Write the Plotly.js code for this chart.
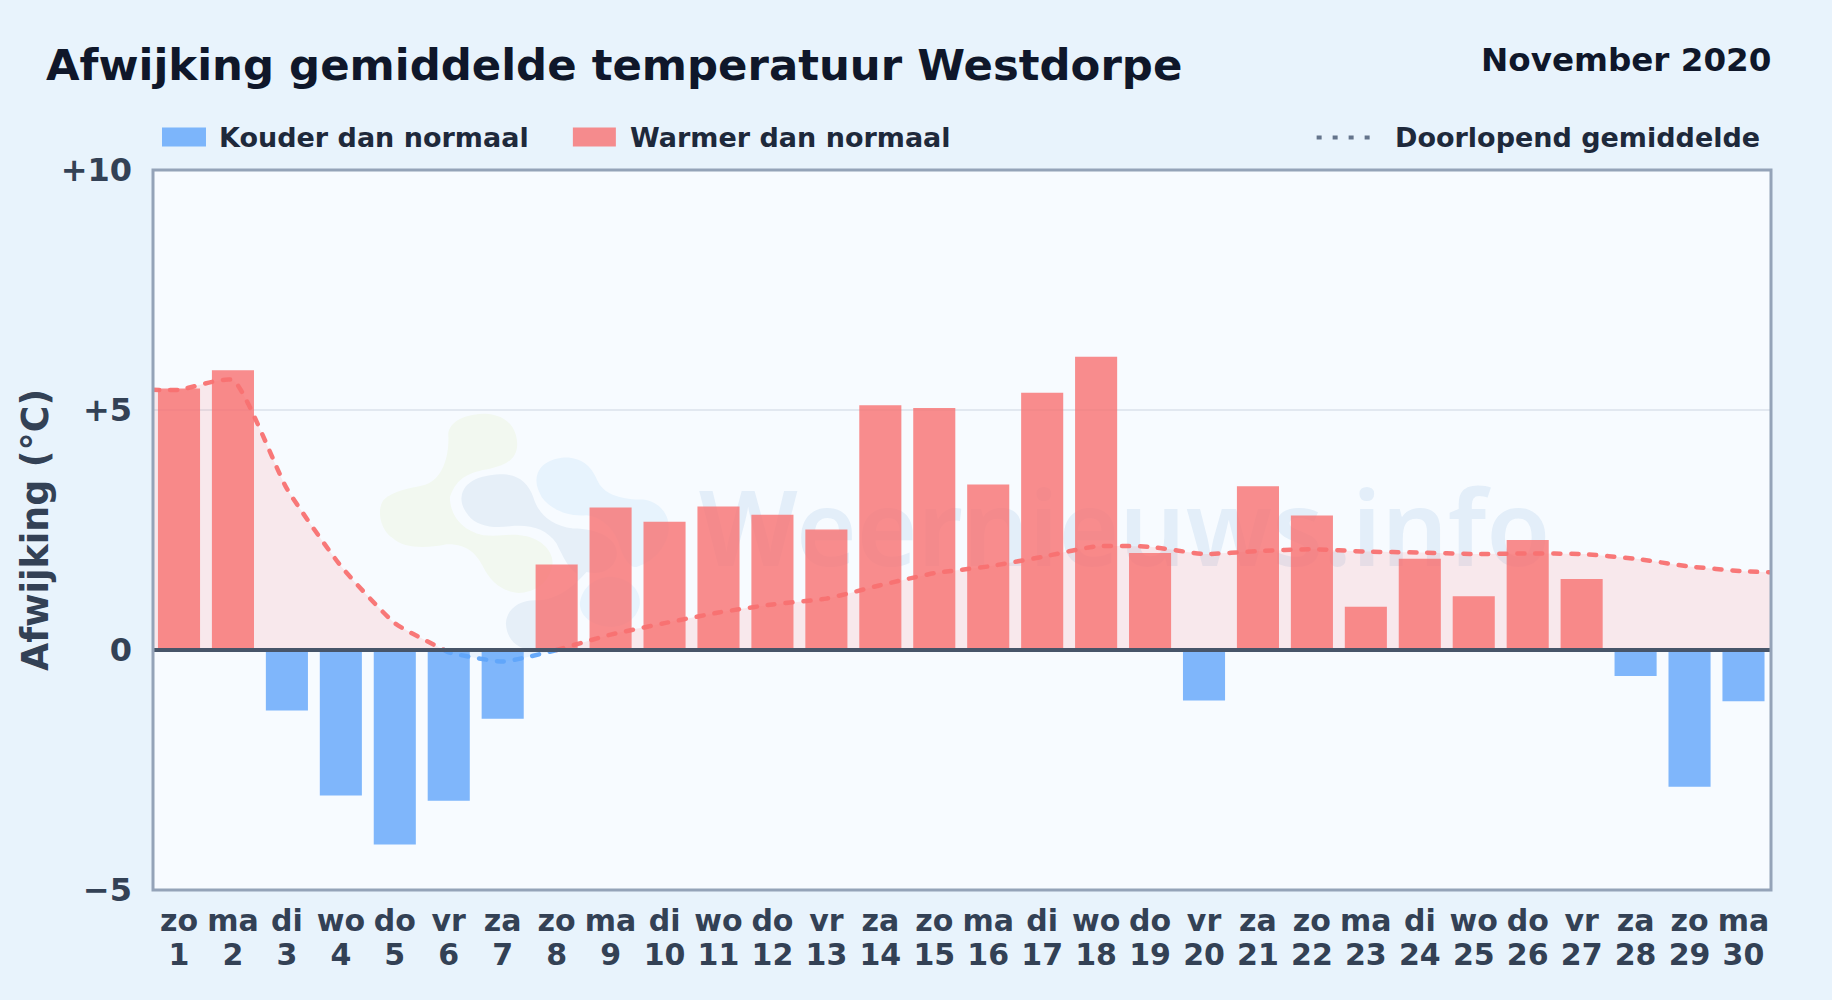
<!DOCTYPE html>
<html>
<head>
<meta charset="utf-8">
<script src="https://cdn.plot.ly/plotly-3.0.1.min.js"></script>
<style>
html,body{margin:0;padding:0;background:#e8f3fc;overflow:hidden}
#chart{width:1832px;height:1000px}
.scatterlayer .js-line{stroke-linecap:round}
</style>
</head>
<body>
<div id="chart"></div>
<script>
const weekdays = ["zo","ma","di","wo","do","vr","za","zo","ma","di","wo","do","vr","za","zo","ma","di","wo","do","vr","za","zo","ma","di","wo","do","vr","za","zo","ma"];
const days = [1,2,3,4,5,6,7,8,9,10,11,12,13,14,15,16,17,18,19,20,21,22,23,24,25,26,27,28,29,30];
const deviations = [5.45,5.83,-1.26,-3.03,-4.05,-3.14,-1.43,1.78,2.97,2.67,2.99,2.82,2.51,5.1,5.04,3.45,5.36,6.11,2.02,-1.05,3.41,2.8,0.9,1.9,1.12,2.29,1.48,-0.54,-2.85,-1.07];
const avgDays = [0.5,1,2,3,4,5,6,7,8,9,10,11,12,13,14,15,16,17,18,19,20,21,22,23,24,25,26,27,28,29,30,30.5];
const avgValues = [5.42,5.42,5.62,3.36,1.75,0.56,-0.05,-0.24,0.0,0.32,0.56,0.78,0.95,1.07,1.35,1.6,1.74,1.94,2.16,2.15,2.0,2.06,2.1,2.05,2.03,2.0,2.01,2.0,1.9,1.74,1.64,1.62];
const yTickVals = [-5,0,5,10];
const yTickText = ["\u22125","0","+5","+10"];
const RED = "#f87171", BLUE = "#60a5fa";
const W = 1832, H = 1000;
const L = 153, R = 1771.5, T = 169.5, B = 890;
const xRange = [0.518,30.51], yRange = [-5,10];

function segments(xs, ys){
  const out=[]; let cur={x:[xs[0]],y:[ys[0]],pos:ys[0]>=0};
  for(let i=1;i<xs.length;i++){
    const pos=ys[i]>=0;
    if(pos!==cur.pos){
      const t=ys[i-1]/(ys[i-1]-ys[i]), xc=xs[i-1]+t*(xs[i]-xs[i-1]);
      cur.x.push(xc);cur.y.push(0);out.push(cur);
      cur={x:[xc],y:[0],pos:pos};
    }
    cur.x.push(xs[i]);cur.y.push(ys[i]);
  }
  out.push(cur);return out;
}
const segs=segments(avgDays,avgValues);
const traces=[];
segs.forEach(s=>traces.push({type:"scatter",mode:"lines",x:s.x,y:s.y,fill:"tozeroy",
  fillcolor:s.pos?"rgba(252,110,110,0.13)":"rgba(96,165,250,0.10)",
  line:{width:0,shape:"spline",smoothing:0.5},hoverinfo:"skip",showlegend:false,xaxis:"x",yaxis:"y"}));
const colderX=days.filter((d,i)=>deviations[i]<0), colderY=deviations.filter(v=>v<0);
const warmerX=days.filter((d,i)=>deviations[i]>=0), warmerY=deviations.filter(v=>v>=0);
traces.push({type:"bar",name:"Kouder dan normaal",x:colderX,y:colderY,width:0.78,marker:{color:"rgba(96,165,250,0.8)",line:{width:0}},xaxis:"x2",yaxis:"y2",showlegend:false});
traces.push({type:"bar",name:"Warmer dan normaal",x:warmerX,y:warmerY,width:0.78,marker:{color:"rgba(248,113,113,0.8)",line:{width:0}},xaxis:"x2",yaxis:"y2",showlegend:false});
segs.forEach(s=>traces.push({type:"scatter",mode:"lines",name:"Doorlopend gemiddelde",x:s.x,y:s.y,
  line:{color:s.pos?RED:BLUE,width:4.5,dash:"7px,11px",shape:"spline",smoothing:0.5},opacity:0.95,showlegend:false,xaxis:"x2",yaxis:"y2"}));

const px=x=>(x-L)/(R-L), py=y=>(B-y)/(B-T);
function logoPath(d){return d.replace(/(-?\d+(?:\.\d+)?),(-?\d+(?:\.\d+)?)/g,(m,a,b)=>px(360+a/3)+","+py(400+b/3));}
const logo=[
 ["#f2f8f0","M265,100 C270,60 320,40 380,40 C440,45 470,80 472,130 C472,175 440,195 390,205 C330,215 290,230 270,290 C270,340 300,390 370,405 C420,410 450,400 480,405 C540,410 580,450 578,490 C570,550 520,580 470,578 C420,570 390,540 370,500 C350,460 320,430 260,432 C200,445 130,445 100,415 C60,390 50,330 70,300 C100,270 150,265 190,255 C240,245 270,180 265,100 Z"],
 ["#e6eff8","M305,290 C310,240 370,222 430,222 C480,225 505,250 520,290 C535,340 570,375 640,385 C720,385 780,420 770,470 C760,510 720,525 680,515 C640,560 590,600 530,600 C480,598 440,625 438,670 C440,715 470,745 510,748 L650,748 L650,520 C625,505 610,470 590,430 C560,385 510,372 450,378 C400,385 350,378 325,345 C310,325 303,310 305,290 Z"],
 ["#e7f3fd","M530,235 C535,190 580,170 630,172 C680,178 700,210 715,245 C735,285 790,298 850,298 C900,305 935,345 925,400 C915,450 870,490 830,500 C810,505 790,470 780,440 C770,395 730,350 680,345 C620,350 570,325 545,290 C535,270 528,255 530,235 Z"],
 ["#e7f3fd","M660,610 C665,560 710,528 760,530 C810,535 842,570 840,610 C835,650 800,682 750,680 C700,678 660,650 660,610 Z"]
];
const shapes=logo.map(l=>({type:"path",xref:"paper",yref:"paper",layer:"below",path:logoPath(l[1]),fillcolor:l[0],line:{width:0}}));
shapes.push({type:"rect",xref:"paper",yref:"paper",layer:"below",x0:px(690),x1:px(1560),y0:py(582),y1:py(482),line:{width:0},fillcolor:"rgba(0,0,0,0)",
  label:{text:"Weernieuws.info",textposition:"middle center",font:{family:"Noto Sans",size:104,weight:600,color:"rgba(30,110,190,0.09)"}}});
shapes.push({type:"line",xref:"paper",yref:"y",x0:0,x1:1,y0:0,y1:0,layer:"above",line:{color:"#475569",width:4}});
shapes.push({type:"rect",xref:"paper",yref:"paper",x0:0,x1:1,y0:0,y1:1,layer:"above",line:{color:"#94a3b8",width:3},fillcolor:"rgba(0,0,0,0)"});
shapes.push({type:"rect",xref:"paper",yref:"paper",x0:px(162),x1:px(206),y0:py(146),y1:py(127),line:{width:0},fillcolor:"rgba(96,165,250,0.8)"});
shapes.push({type:"rect",xref:"paper",yref:"paper",x0:px(573),x1:px(616),y0:py(146),y1:py(127),line:{width:0},fillcolor:"rgba(248,113,113,0.8)"});
shapes.push({type:"line",xref:"paper",yref:"paper",x0:px(1317),x1:px(1373),y0:py(137),y1:py(137),line:{color:"#64748b",width:4,dash:"5px,11px"}});

const legendFont={family:"DejaVu Sans",size:27,color:"#1e293b",weight:700};
const note=(text,x,y,anchor,font)=>({text,x:px(x),y:py(y),xref:"paper",yref:"paper",xanchor:anchor,yanchor:"middle",showarrow:false,font,borderpad:0,borderwidth:0});
const annotations=[
 note("Kouder dan normaal",219,136.5,"left",legendFont),
 note("Warmer dan normaal",630.5,136.5,"left",legendFont),
 note("Doorlopend gemiddelde",1395,136.5,"left",legendFont),
 note("November 2020",1772,59,"right",{family:"DejaVu Sans",size:32.6,color:"#0f172a",weight:700})
];

const xTickFont={family:"DejaVu Sans",size:30,color:"#334155",weight:700};
const yTickFont={family:"DejaVu Sans",size:32,color:"#334155",weight:700};
const layout={
 width:W,height:H,autosize:false,
 paper_bgcolor:"#e8f3fc",plot_bgcolor:"#f7fbff",
 margin:{l:L,r:W-R,t:T,b:H-B,pad:0},
 barmode:"overlay",showlegend:false,
 title:{text:"Afwijking gemiddelde temperatuur Westdorpe",xref:"container",yref:"container",x:46/W,y:1-64.5/H,xanchor:"left",yanchor:"middle",pad:{l:0,r:0,t:0,b:0},
   font:{family:"DejaVu Sans",size:43.4,color:"#0f172a",weight:700}},
 xaxis:{range:xRange,tickmode:"array",tickvals:days,ticktext:days.map(String),tickfont:xTickFont,ticks:"",showgrid:false,zeroline:false,showline:false,tickangle:0,automargin:false,ticklabelstandoff:44},
 yaxis:{range:yRange,tickmode:"array",tickvals:yTickVals,ticktext:yTickText,tickfont:yTickFont,ticks:"",showgrid:true,gridcolor:"#e2e8f0",gridwidth:2,zeroline:false,showline:false,automargin:false,ticklabelstandoff:20,
   title:{text:"Afwijking (°C)",standoff:0,font:{family:"DejaVu Sans",size:36.4,color:"#334155",weight:700}}},
 xaxis2:{range:xRange,overlaying:"x",anchor:"y2",side:"bottom",tickmode:"array",tickvals:days,ticktext:weekdays,tickfont:xTickFont,ticks:"",showgrid:false,zeroline:false,showline:false,tickangle:0,automargin:false,ticklabelstandoff:10},
 yaxis2:{range:yRange,overlaying:"y",visible:false,anchor:"x2"},
 shapes,annotations
};
Plotly.newPlot("chart",traces,layout,{displayModeBar:false,staticPlot:true});
</script>
</body>
</html>
